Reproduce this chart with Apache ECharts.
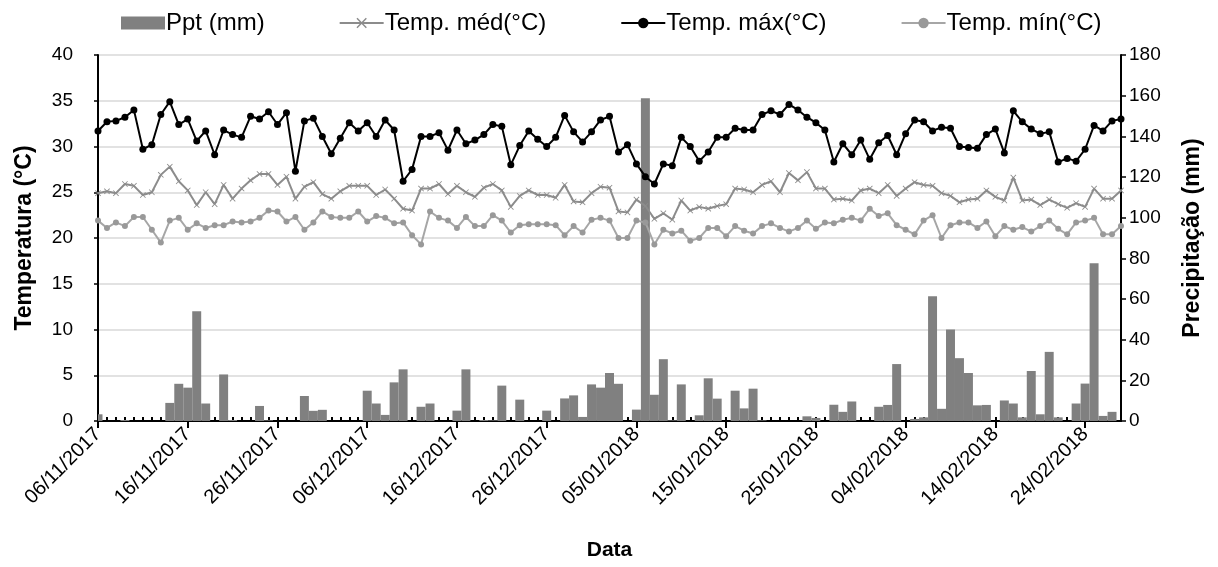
<!DOCTYPE html>
<html>
<head>
<meta charset="utf-8">
<script src="https://cdn.jsdelivr.net/npm/echarts@6/dist/echarts.min.js"></script>
<style>
html,body{margin:0;padding:0;background:#fff;}
#c{width:1218px;height:567px;}
</style>
</head>
<body>
<div id="c"></div>
<script>
const dates = [
"06/11/2017","07/11/2017","08/11/2017","09/11/2017","10/11/2017","11/11/2017","12/11/2017","13/11/2017","14/11/2017","15/11/2017",
"16/11/2017","17/11/2017","18/11/2017","19/11/2017","20/11/2017","21/11/2017","22/11/2017","23/11/2017","24/11/2017","25/11/2017",
"26/11/2017","27/11/2017","28/11/2017","29/11/2017","30/11/2017","01/12/2017","02/12/2017","03/12/2017","04/12/2017","05/12/2017",
"06/12/2017","07/12/2017","08/12/2017","09/12/2017","10/12/2017","11/12/2017","12/12/2017","13/12/2017","14/12/2017","15/12/2017",
"16/12/2017","17/12/2017","18/12/2017","19/12/2017","20/12/2017","21/12/2017","22/12/2017","23/12/2017","24/12/2017","25/12/2017",
"26/12/2017","27/12/2017","28/12/2017","29/12/2017","30/12/2017","31/12/2017","01/01/2018","02/01/2018","03/01/2018","04/01/2018",
"05/01/2018","06/01/2018","07/01/2018","08/01/2018","09/01/2018","10/01/2018","11/01/2018","12/01/2018","13/01/2018","14/01/2018",
"15/01/2018","16/01/2018","17/01/2018","18/01/2018","19/01/2018","20/01/2018","21/01/2018","22/01/2018","23/01/2018","24/01/2018",
"25/01/2018","26/01/2018","27/01/2018","28/01/2018","29/01/2018","30/01/2018","31/01/2018","01/02/2018","02/02/2018","03/02/2018",
"04/02/2018","05/02/2018","06/02/2018","07/02/2018","08/02/2018","09/02/2018","10/02/2018","11/02/2018","12/02/2018","13/02/2018",
"14/02/2018","15/02/2018","16/02/2018","17/02/2018","18/02/2018","19/02/2018","20/02/2018","21/02/2018","22/02/2018","23/02/2018",
"24/02/2018","25/02/2018","26/02/2018","27/02/2018","28/02/2018"
];

const ppt = [
3.3,0,0,0.5,0,0,0,0,8.9,18.3,
16.4,54.0,8.6,0,22.9,0.5,0,0,7.4,0.3,
0,0,0,12.3,5.0,5.5,0,0,0,0,
14.9,8.6,3.0,19.0,25.4,0,7.0,8.6,0,0,
5.1,25.4,0,0.5,0.3,17.4,0,10.5,0,0,
5.1,0,11.1,12.6,2.0,18.0,16.4,23.6,18.3,0,
5.6,158.7,12.9,30.4,0.3,18.0,0,2.8,21.0,11.0,
0,14.9,6.2,15.9,0.3,0,0,0,0,2.3,
1.5,0,8.0,4.5,9.6,0,0,7.0,7.9,28.0,
0,1.0,1.8,61.4,6.0,45.0,30.9,23.6,7.7,7.9,
0,10.1,8.6,1.8,24.6,3.3,34.0,1.8,0,8.6,
18.4,77.6,2.5,4.5,0
];

const tMed = [
24.9,25.1,24.9,25.9,25.7,24.7,25.0,26.9,27.8,26.2,
25.2,23.6,25.0,23.7,25.8,24.3,25.4,26.3,27.0,27.0,
25.8,26.7,24.3,25.6,26.1,24.8,24.3,25.1,25.7,25.7,
25.7,24.7,25.3,24.3,23.2,23.0,25.4,25.4,25.9,24.8,
25.7,25.0,24.5,25.5,25.9,25.2,23.4,24.6,25.2,24.7,
24.7,24.4,25.8,24.0,23.9,24.9,25.6,25.5,22.9,22.8,
24.2,23.5,22.1,22.7,22.0,24.1,23.0,23.4,23.2,23.5,
23.7,25.4,25.3,25.0,25.8,26.2,25.0,27.1,26.3,27.2,
25.4,25.4,24.2,24.3,24.1,25.2,25.4,24.9,25.8,24.6,
25.4,26.1,25.8,25.7,24.9,24.6,23.9,24.2,24.3,25.2,
24.5,24.1,26.6,24.1,24.2,23.6,24.2,23.7,23.3,23.8,
23.4,25.4,24.3,24.3,25.2
];

const tMax = [
31.7,32.7,32.8,33.2,34.0,29.7,30.2,33.5,34.9,32.4,
33.0,30.6,31.7,29.1,31.8,31.3,31.0,33.3,33.0,33.8,
32.4,33.7,27.3,32.8,33.1,31.1,29.2,30.9,32.6,31.7,
32.6,31.1,32.9,31.8,26.2,27.5,31.1,31.1,31.5,29.6,
31.8,30.3,30.7,31.3,32.4,32.2,28.0,30.1,31.7,30.8,
30.0,31.0,33.4,31.6,30.5,31.6,32.9,33.3,29.4,30.2,
28.1,26.7,25.9,28.1,27.9,31.0,30.0,28.4,29.4,31.0,
31.0,32.0,31.8,31.8,33.5,33.9,33.5,34.6,34.0,33.2,
32.6,31.8,28.3,30.3,29.1,30.7,28.6,30.4,31.2,29.1,
31.4,32.9,32.7,31.7,32.1,32.0,30.0,29.9,29.8,31.3,
31.9,29.3,33.9,32.7,31.9,31.4,31.6,28.3,28.7,28.4,
29.7,32.3,31.7,32.8,33.0
];

const tMin = [
21.9,21.1,21.7,21.3,22.3,22.3,20.9,19.5,21.9,22.2,
20.9,21.6,21.1,21.4,21.4,21.8,21.7,21.8,22.2,23.0,
22.9,21.8,22.3,20.9,21.7,22.9,22.3,22.2,22.2,22.9,
21.8,22.4,22.2,21.6,21.7,20.3,19.3,22.9,22.2,21.9,
21.1,22.3,21.3,21.3,22.5,21.9,20.6,21.4,21.5,21.5,
21.5,21.4,20.3,21.3,20.6,22.0,22.2,21.9,20.0,20.0,
21.9,21.7,19.3,20.9,20.5,20.8,19.7,20.0,21.1,21.1,
20.2,21.3,20.8,20.5,21.3,21.6,21.1,20.7,21.1,21.9,
21.0,21.7,21.6,22.0,22.2,21.9,23.2,22.4,22.7,21.4,
20.9,20.4,21.9,22.5,20.0,21.4,21.7,21.7,21.1,21.8,
20.2,21.3,20.9,21.2,20.7,21.3,21.9,21.0,20.4,21.7,
21.9,22.2,20.4,20.4,21.3
];

const seriesNames = ["Ppt (mm)", "Temp. méd(°C)", "Temp. máx(°C)", "Temp. mín(°C)"];
const leftTitle = "Temperatura (°C)";
const rightTitle = "Precipitação (mm)";
const xTitle = "Data";

const FONT = "'Liberation Sans', Arial, sans-serif";
const crossPath = "path://M0,1L1,0L5,4L9,0L10,1L6,5L10,9L9,10L5,6L1,10L0,9L4,5Z";

// bar data built from the ppt array: [day index, value]
const pptData = ppt.map(function (v, i) { return [i, v]; });

function renderBar(params, api) {
  const xi = api.value(0);
  const v = api.value(1);
  const base = api.coord([xi, 0]);
  const top = api.coord([xi, v]);
  const w = api.size([1, 0])[0];
  const cs = params.coordSys;
  const rect = echarts.graphic.clipRectByRect(
    {x: base[0] - w / 2, y: top[1], width: w, height: base[1] - top[1]},
    {x: cs.x, y: cs.y, width: cs.width, height: cs.height}
  );
  return rect && {type: 'rect', shape: rect, style: api.style()};
}

const chart = echarts.init(document.getElementById('c'), null, {renderer: 'canvas'});
chart.setOption({
  animation: false,
  backgroundColor: '#ffffff',
  textStyle: {fontFamily: FONT, color: '#000'},
  legend: {
    data: [
      {name: seriesNames[0], icon: 'rect'},
      seriesNames[1], seriesNames[2], seriesNames[3]
    ],
    top: 6,
    left: 116,
    itemGap: 74,
    itemWidth: 44,
    itemHeight: 13,
    textStyle: {fontFamily: FONT, fontSize: 24, color: '#000', padding: [0, 0, 0, -4]}
  },
  grid: {left: 98, right: 97, top: 55, bottom: 146, containLabel: false},
  xAxis: [
    {
      type: 'category',
      data: dates,
      boundaryGap: false,
      position: 'bottom',
      axisLine: {show: true, lineStyle: {color: '#000', width: 2}},
      axisTick: {show: true, interval: 9, length: 7, inside: false, lineStyle: {color: '#000', width: 2}},
      axisLabel: {interval: 9, rotate: 45, fontSize: 20, color: '#000', fontFamily: FONT, margin: 10},
      splitLine: {show: false},
      name: xTitle,
      nameLocation: 'middle',
      nameGap: 119,
      nameTextStyle: {fontSize: 21, fontWeight: 'bold', color: '#000', fontFamily: FONT}
    },
    {
      type: 'category',
      data: dates,
      boundaryGap: false,
      position: 'bottom',
      axisLine: {show: false},
      axisTick: {show: true, interval: 0, length: 4, inside: true, lineStyle: {color: '#000', width: 2}},
      axisLabel: {show: false},
      splitLine: {show: false}
    }
  ],
  yAxis: [
    {
      type: 'value',
      min: 0, max: 40, interval: 5,
      position: 'left',
      axisLine: {show: true, lineStyle: {color: '#000', width: 2}},
      axisTick: {show: true, length: 4, lineStyle: {color: '#000', width: 1.5}},
      axisLabel: {fontSize: 19, color: '#000', fontFamily: FONT, margin: 25},
      splitLine: {show: true, lineStyle: {color: '#d9d9d9', width: 1.5}},
      name: leftTitle,
      nameLocation: 'middle',
      nameRotate: 90,
      nameGap: 62,
      nameTextStyle: {fontSize: 23, fontWeight: 'bold', color: '#000', fontFamily: FONT}
    },
    {
      type: 'value',
      min: 0, max: 180, interval: 20,
      position: 'right',
      axisLine: {show: true, lineStyle: {color: '#000', width: 2}},
      axisTick: {show: true, length: 5, lineStyle: {color: '#000', width: 1.5}},
      axisLabel: {fontSize: 19, color: '#000', fontFamily: FONT, margin: 8},
      splitLine: {show: false},
      name: rightTitle,
      nameLocation: 'middle',
      nameRotate: 90,
      nameGap: 60,
      nameTextStyle: {fontSize: 23, fontWeight: 'bold', color: '#000', fontFamily: FONT}
    }
  ],
  series: [
    {
      name: seriesNames[0],
      type: 'custom',
      xAxisIndex: 0,
      yAxisIndex: 1,
      data: pptData,
      encode: {x: 0, y: 1},
      renderItem: renderBar,
      itemStyle: {color: '#808080'},
      z: 1
    },
    {
      name: seriesNames[1],
      type: 'line',
      xAxisIndex: 0,
      yAxisIndex: 0,
      data: tMed,
      symbol: crossPath,
      symbolSize: 6,
      showAllSymbol: true,
      lineStyle: {color: '#8c8c8c', width: 2},
      itemStyle: {color: '#8c8c8c'},
      z: 3
    },
    {
      name: seriesNames[2],
      type: 'line',
      xAxisIndex: 0,
      yAxisIndex: 0,
      data: tMax,
      symbol: 'circle',
      symbolSize: 7,
      showAllSymbol: true,
      lineStyle: {color: '#000000', width: 2},
      itemStyle: {color: '#000000'},
      z: 4
    },
    {
      name: seriesNames[3],
      type: 'line',
      xAxisIndex: 0,
      yAxisIndex: 0,
      data: tMin,
      symbol: 'circle',
      symbolSize: 6,
      showAllSymbol: true,
      lineStyle: {color: '#a6a6a6', width: 2},
      itemStyle: {color: '#999999'},
      z: 3
    }
  ]
});
</script>
</body>
</html>
